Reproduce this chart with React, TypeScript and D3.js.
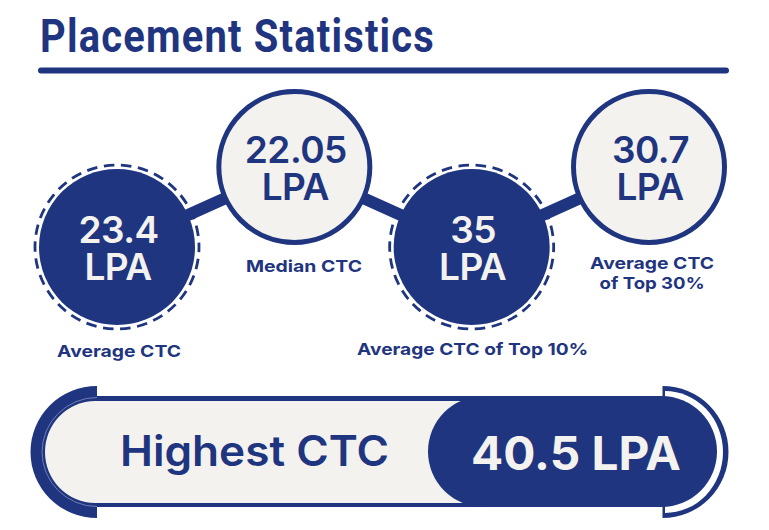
import React from "react";
import * as d3 from "d3";

const titleText = "Placement Statistics";
const categories = ["Average CTC", "Median CTC", "Average CTC of Top 10%", "Average CTC of Top 30%"];
const values = ["23.4", "22.05", "35", "30.7"];
const unit = "LPA";
const highlightLabel = "Highest CTC";
const highlightValue = "40.5 LPA";
const labelLines = [["Average CTC"], ["Median CTC"], ["Average CTC of Top 10%"], ["Average CTC", "of Top 30%"]];

const DARK = "#1f3580";
const CREAM = "#f3f2ee";
const FONT = "Inter, 'Noto Sans', sans-serif";

const labelX = [119, 304, 472.6, 652];
const labelY = [357, 272, 355, 268.5];
const labelLen = [[124], [116], [231], [124, 105]];

const x = d3.scalePoint<string>().domain(categories).range([117, 649]);
const rowY = d3.scaleOrdinal<number, number>().domain([0, 1]).range([247, 167]);
const cy = (i: number) => rowY(i % 2);

const semi = (cx0: number, cy0: number, rx: number, ry: number, dir: number) =>
  `M${cx0},${cy0 - ry}A${rx},${ry} 0 0 ${dir > 0 ? 1 : 0} ${cx0},${cy0 + ry}Z`;

export default function App() {
  const line = d3.line<string>().x((d) => x(d)!).y((_, i) => cy(i));
  const ringR = 82;
  const period = (2 * Math.PI * ringR) / 30;
  const dash = 10.5;
  return (
    <svg width={769} height={530} viewBox="0 0 769 530" style={{ position: "absolute", left: 0, top: 0, background: "#fff" }} fontFamily={FONT}>
      <text x={40} y={52} fontFamily="Roboto, sans-serif" fontWeight={700} fontSize={47} fill={DARK} letterSpacing={1.4} textLength={395} lengthAdjust="spacingAndGlyphs">{titleText}</text>
      <rect x={38} y={67.5} width={691} height={6} rx={3} fill={DARK} />

      <path d={line(categories) ?? ""} fill="none" stroke={DARK} strokeWidth={12} />

      {categories.map((c, i) => {
        const filled = i % 2 === 0;
        const cx = x(c)!;
        return (
          <g key={c}>
            {filled && <circle cx={cx} cy={cy(i)} r={ringR} fill="none" stroke={DARK} strokeWidth={2.8} strokeDasharray={`${dash} ${period - dash}`} strokeDashoffset={dash / 2} />}
            <circle cx={cx} cy={cy(i)} r={filled ? 78 : 75.5} fill={filled ? DARK : CREAM} stroke={filled ? "none" : DARK} strokeWidth={filled ? 0 : 5} />
            <text textAnchor="middle" fontSize={37} fontWeight={600} fill={filled ? CREAM : DARK} letterSpacing={-0.5}>
              <tspan x={cx + 1.5} y={cy(i) - 4}>{values[i]}</tspan>
              <tspan x={cx + 1} y={cy(i) + 33}>{unit}</tspan>
            </text>
            <text textAnchor="middle" fontSize={16.5} fontWeight={700} fill={DARK}>
              {labelLines[i].map((t, j) => (
                <tspan key={t} x={labelX[i]} y={labelY[i] + j * 20.5} textLength={labelLen[i][j]} lengthAdjust="spacingAndGlyphs">{t}</tspan>
              ))}
            </text>
          </g>
        );
      })}

      <path d={semi(97, 452, 66.5, 66, -1)} fill={DARK} />
      <path d={semi(662.5, 452, 66, 66, 1)} fill={DARK} />
      <path d={semi(665, 452, 58, 61, 1)} fill="#fff" />
      <rect x={92} y={396} width={500} height={111} fill={DARK} />
      <path d="M97,397.5A55,54.5 0 0 0 97,506.5" fill="none" stroke="#8f9cc6" strokeWidth={0.7} />
      <rect x={45} y={401} width={470} height={102} rx={50} ry={51} fill={CREAM} />
      <rect x={428} y={396} width={289} height={111} rx={55.5} fill={DARK} />
      <text x={120} y={466} fontSize={42} fontWeight={600} fill={DARK} textLength={269} lengthAdjust="spacingAndGlyphs">{highlightLabel}</text>
      <text x={471} y={470} fontSize={46} fontWeight={700} fill={CREAM} textLength={210} lengthAdjust="spacingAndGlyphs">{highlightValue}</text>
    </svg>
  );
}
